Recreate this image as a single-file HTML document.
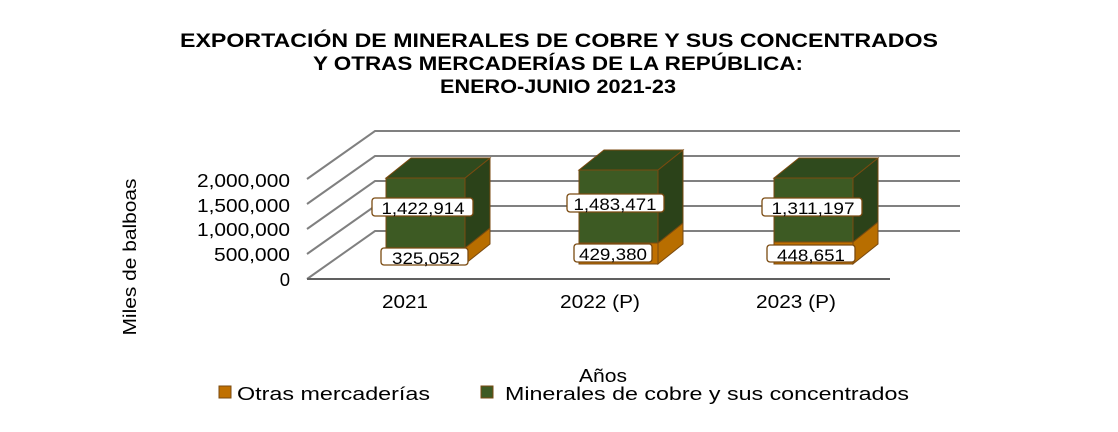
<!DOCTYPE html>
<html><head><meta charset="utf-8"><style>
body{margin:0;background:#fff}
svg{display:block;font-family:"Liberation Sans",sans-serif}
</style></head><body>
<svg width="1118" height="432" viewBox="0 0 1118 432">
<g font-weight="bold" font-size="19" text-anchor="middle" fill="#000">
<text x="559" y="47" textLength="758" lengthAdjust="spacingAndGlyphs">EXPORTACIÓN  DE MINERALES  DE COBRE  Y SUS CONCENTRADOS</text>
<text x="558" y="70" textLength="490" lengthAdjust="spacingAndGlyphs">Y OTRAS MERCADERÍAS  DE LA REPÚBLICA:</text>
<text x="558" y="93" textLength="236" lengthAdjust="spacingAndGlyphs">ENERO-JUNIO  2021-23</text>
</g>
<g stroke="#808080" stroke-width="2" fill="none">
<polyline points="307,179 375,131 960,131"/>
<polyline points="307,204 375,156 960,156"/>
<polyline points="307,229 375,181 960,181"/>
<polyline points="307,254 375,206 960,206"/>
<polyline points="307,279 375,231 960,231"/>
<line x1="307" y1="279" x2="890" y2="279" stroke="#606060"/>
</g>
<g stroke="#7a4a10" stroke-width="1">
<polygon points="465,248 490,228 490,244 465,264" fill="#b86e00"/>
<polygon points="465,178 490,158 490,228 465,248" fill="#2b4219"/>
<polygon points="386,178 411,158 490,158 465,178" fill="#2f4a1d"/>
<rect x="386" y="248" width="79" height="16" fill="#c07000"/>
<rect x="386" y="178" width="79" height="70" fill="#3d5a23"/>
<polygon points="658,243 683,223 683,244 658,264" fill="#b86e00"/>
<polygon points="658,170 683,150 683,223 658,243" fill="#2b4219"/>
<polygon points="579,170 604,150 683,150 658,170" fill="#2f4a1d"/>
<rect x="579" y="243" width="79" height="21" fill="#c07000"/>
<rect x="579" y="170" width="79" height="73" fill="#3d5a23"/>
<polygon points="853,242 878,222 878,244 853,264" fill="#b86e00"/>
<polygon points="853,178 878,158 878,222 853,242" fill="#2b4219"/>
<polygon points="774,178 799,158 878,158 853,178" fill="#2f4a1d"/>
<rect x="774" y="242" width="79" height="22" fill="#c07000"/>
<rect x="774" y="178" width="79" height="64" fill="#3d5a23"/>
</g>
<g stroke="#7a4a10" stroke-width="1.3" fill="#fff">
<rect x="372" y="198" width="101" height="18" rx="3"/>
<rect x="381" y="248" width="87" height="17" rx="3"/>
<rect x="567" y="194" width="97" height="18" rx="3"/>
<rect x="574" y="244" width="78" height="18" rx="3"/>
<rect x="762" y="198" width="100" height="18" rx="3"/>
<rect x="767" y="245" width="88" height="17" rx="3"/>
</g>
<g font-size="17" text-anchor="middle" fill="#000">
<text x="423" y="214" textLength="83" lengthAdjust="spacingAndGlyphs">1,422,914</text>
<text x="426" y="264" textLength="68" lengthAdjust="spacingAndGlyphs">325,052</text>
<text x="615" y="210" textLength="83" lengthAdjust="spacingAndGlyphs">1,483,471</text>
<text x="613" y="260" textLength="68" lengthAdjust="spacingAndGlyphs">429,380</text>
<text x="813" y="214" textLength="83" lengthAdjust="spacingAndGlyphs">1,311,197</text>
<text x="811" y="261" textLength="68" lengthAdjust="spacingAndGlyphs">448,651</text>
</g>
<g font-size="18.5" text-anchor="end" fill="#000">
<text x="290" y="187" textLength="93" lengthAdjust="spacingAndGlyphs">2,000,000</text>
<text x="290" y="212" textLength="93" lengthAdjust="spacingAndGlyphs">1,500,000</text>
<text x="290" y="236" textLength="93" lengthAdjust="spacingAndGlyphs">1,000,000</text>
<text x="290" y="261" textLength="76" lengthAdjust="spacingAndGlyphs">500,000</text>
<text x="290" y="286">0</text>
</g>
<g font-size="18.5" text-anchor="middle" fill="#000">
<text x="405" y="308" textLength="46" lengthAdjust="spacingAndGlyphs">2021</text>
<text x="600" y="308" textLength="80" lengthAdjust="spacingAndGlyphs">2022 (P)</text>
<text x="796" y="308" textLength="80" lengthAdjust="spacingAndGlyphs">2023 (P)</text>
<text x="603" y="382" textLength="48" lengthAdjust="spacingAndGlyphs">Años</text>
<text transform="translate(136,257) rotate(-90)" textLength="157" lengthAdjust="spacingAndGlyphs">Miles de balboas</text>
</g>
<rect x="219" y="386" width="12" height="12" fill="#c07000" stroke="#7a4a10"/>
<rect x="481" y="386" width="12" height="12" fill="#3d5a23" stroke="#7a4a10"/>
<g font-size="18.5" fill="#000">
<text x="237" y="400" textLength="193" lengthAdjust="spacingAndGlyphs">Otras mercaderías</text>
<text x="505" y="400" textLength="404" lengthAdjust="spacingAndGlyphs">Minerales de cobre y sus concentrados</text>
</g>
</svg>
</body></html>
